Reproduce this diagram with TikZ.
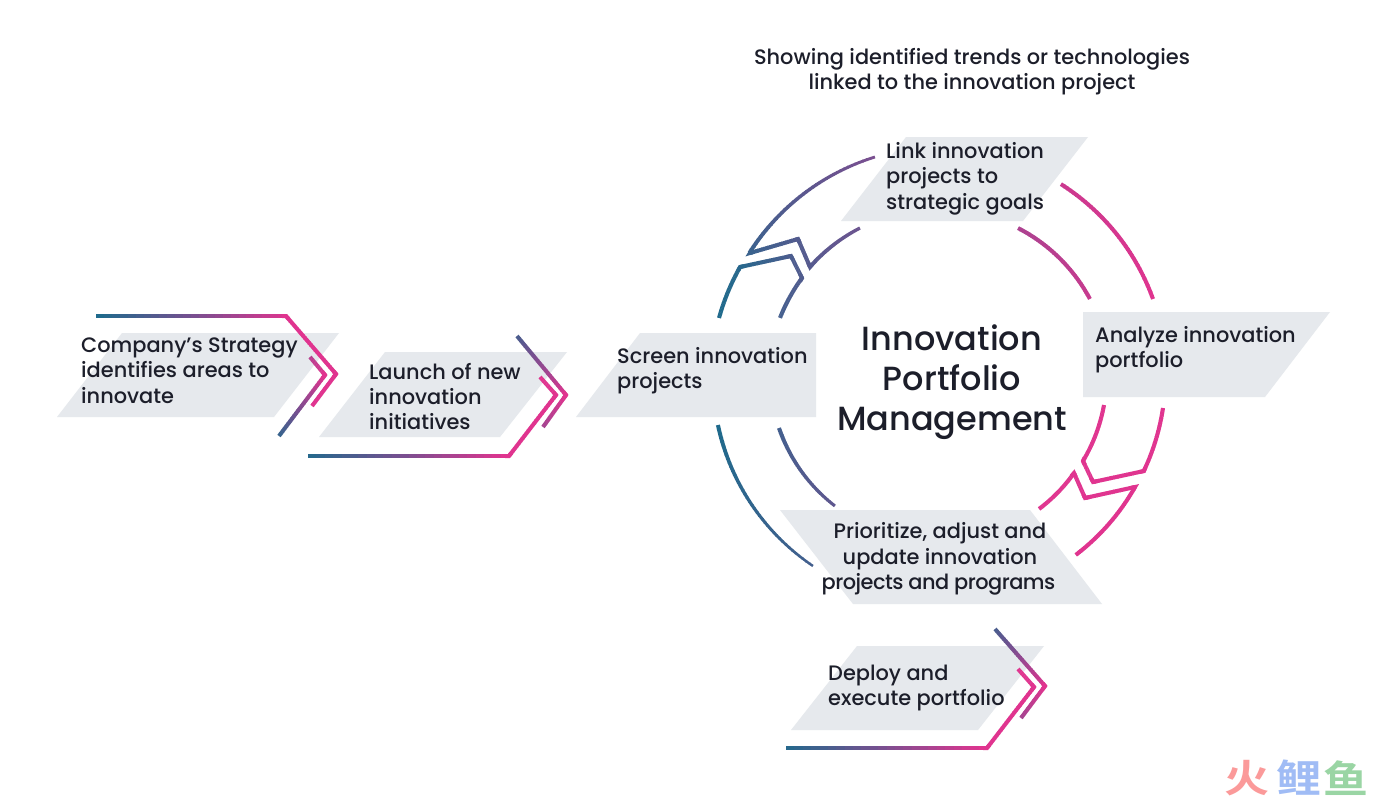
\documentclass[tikz,border=0pt]{standalone}
\usepackage{fontspec}
\setmainfont{Poppins Medium}
\newfontfamily\cjkwm{Noto Sans CJK SC Bold}
\usetikzlibrary{calc}
\definecolor{glow}{HTML}{1F6A8C}
\definecolor{gmid}{HTML}{7A4F90}
\definecolor{ghigh}{HTML}{E0348F}
\definecolor{pgram}{HTML}{E6E9ED}
\definecolor{inktext}{HTML}{1C1E2A}
\definecolor{wmred}{HTML}{FB9A9A}
\definecolor{wmblue}{HTML}{A0BCF5}
\definecolor{wmgreen}{HTML}{9AD5A4}
\newcommand\rsCol[1]{%
  \pgfmathparse{(#1<0.5)?(200*(#1)):(200*((#1)-0.5))}\let\rsP\pgfmathresult
  \ifdim #1pt<0.5pt \colorlet{gc}{gmid!\rsP!glow}\else\colorlet{gc}{ghigh!\rsP!gmid}\fi}
% straight gradient segment: x1 y1 t1 x2 y2 t2
\newcommand\gline[6]{%
  \foreach \i in {1,...,24}{%
    \pgfmathsetmacro\rsA{(\i-1)/24}%
    \pgfmathsetmacro\rsB{min(1,(\i+0.2)/24)}%
    \pgfmathsetmacro\rsT{#3+(#6-#3)*\rsA}%
    \rsCol{\rsT}%
    \draw[line width=4,gc] ({#1+(#4-#1)*\rsA},{#2+(#5-#2)*\rsA}) -- ({#1+(#4-#1)*\rsB},{#2+(#5-#2)*\rsB});
  }}
% arc about the ring centre: a1 r1 a2 r2 t1 t2 w1 w2
\newcommand\garc[8]{%
  \foreach \i in {1,...,40}{%
    \pgfmathsetmacro\rsA{(\i-1)/40}%
    \pgfmathsetmacro\rsB{min(1,(\i+0.2)/40)}%
    \pgfmathsetmacro\rsT{#5+(#6-#5)*\rsA}%
    \pgfmathsetmacro\rsW{#7+(#8-#7)*\rsA}%
    \rsCol{\rsT}%
    \draw[line width=\rsW,gc] ({940+(#2+(#4-#2)*\rsA)*cos(#1+(#3-#1)*\rsA)},{378+(#2+(#4-#2)*\rsA)*sin(#1+(#3-#1)*\rsA)}) -- ({940+(#2+(#4-#2)*\rsB)*cos(#1+(#3-#1)*\rsB)},{378+(#2+(#4-#2)*\rsB)*sin(#1+(#3-#1)*\rsB)});
  }}
% sharp joint: x1 y1 x y x2 y2 t
\newcommand\gjoint[7]{%
  \rsCol{#7}%
  \coordinate (ja) at (#1,#2);\coordinate (jm) at (#3,#4);\coordinate (jb) at (#5,#6);
  \draw[line width=4,gc,line join=miter] ($(jm)!4pt!(ja)$) -- (jm) -- ($(jm)!4pt!(jb)$);}
\tikzset{
  label text/.style={font=\fontsize{20.9}{25.3}\selectfont,text=inktext,inner sep=0pt,align=left,anchor=west},
  card/.style={fill=pgram,draw=none},
  wm/.style={font=\fontsize{45}{45}\cjkwm,inner sep=0pt,anchor=center}
}
\begin{document}
\begin{tikzpicture}[x=1pt,y=-1pt]
\useasboundingbox (0,0) rectangle (1392,801);
\fill[white] (0,0) rectangle (1392,801);
% cards
\fill[card] (122,333) -- (339,333) -- (274,417) -- (57,417) -- cycle;
\fill[card] (385,352) -- (567,352) -- (500,437) -- (319,437) -- cycle;
\fill[card] (640,333) -- (816,333) -- (816,417) -- (576,417) -- cycle;
\fill[card] (906,137) -- (1088,137) -- (1023,221) -- (841,221) -- cycle;
\fill[card] (1083,312) -- (1330,312) -- (1265,397) -- (1083,397) -- cycle;
\fill[card] (780,510) -- (1030,510) -- (1102,604) -- (853,604) -- cycle;
\fill[card] (857,646) -- (1044,646) -- (978,730) -- (791,730) -- cycle;
% chevron 1
\gline{96}{316}{0}{286}{316}{1}
\gline{286}{316}{1}{336}{374}{1}
\gline{336}{374}{1}{312}{406}{1}
\gjoint{96}{316}{286}{316}{336}{374}{1}
\gjoint{286}{316}{336}{374}{312}{406}{1}
\gline{310}{357}{0.8}{325}{375}{1}
\gline{325}{375}{1}{279}{436}{0.1}
\gjoint{310}{357}{325}{375}{279}{436}{1}
% chevron 2
\gline{517}{336}{0.25}{566}{395}{1}
\gline{566}{395}{1}{543}{427}{0.7}
\gjoint{517}{336}{566}{395}{543}{427}{1}
\gline{540}{377}{1}{556}{395}{1}
\gline{556}{395}{1}{509}{456}{1}
\gline{509}{456}{1}{308}{456}{0}
\gjoint{540}{377}{556}{395}{509}{456}{1}
\gjoint{556}{395}{509}{456}{308}{456}{1}
% chevron 3
\gline{995}{629}{0.25}{1045}{686}{1}
\gline{1045}{686}{1}{1021}{718}{0.7}
\gjoint{995}{629}{1045}{686}{1021}{718}{1}
\gline{1018}{669}{1}{1034}{687}{1}
\gline{1034}{687}{1}{987}{748}{1}
\gline{987}{748}{1}{786}{748}{0}
\gjoint{1018}{669}{1034}{687}{987}{748}{1}
\gjoint{1034}{687}{987}{748}{786}{748}{1}
% ring, right side
\garc{-58.05}{228.5}{-20.35}{227.2}{0.9}{1}{4}{4}
\garc{-62.5}{169}{-27.8}{169.5}{0.75}{0.88}{4}{4}
\garc{7.66}{225}{24.5}{224}{1}{1}{4}{4}
\gline{1144}{471}{1}{1093}{482}{1}
\gline{1093}{482}{1}{1083}{461}{1}
\garc{30.1}{165.3}{9.35}{166.2}{1}{1}{4}{4}
\gjoint{1150}{455}{1144}{471}{1093}{482}{1}
\gjoint{1144}{471}{1093}{482}{1083}{461}{1}
\gjoint{1093}{482}{1083}{461}{1091}{444}{1}
\garc{29.2}{223.4}{52.5}{223}{1}{1}{4}{4}
\gline{1135}{487}{1}{1085}{498}{1}
\gline{1085}{498}{1}{1074}{473}{1}
\garc{35.3}{164.3}{52.9}{164.2}{1}{1}{4}{4}
\gjoint{1125}{504}{1135}{487}{1085}{498}{1}
\gjoint{1135}{487}{1085}{498}{1074}{473}{1}
\gjoint{1085}{498}{1074}{473}{1062}{487}{1}
% ring, left side
\garc{-106.4}{230.4}{-146.7}{228}{0.5}{0.15}{2.8}{4}
\gline{750}{253}{0.15}{798}{239}{0.28}
\gline{798}{239}{0.28}{810}{267}{0.3}
\garc{-139.5}{171}{-118.1}{170}{0.3}{0.42}{4}{3.2}
\gjoint{759}{239}{750}{253}{798}{239}{0.15}
\gjoint{750}{253}{798}{239}{810}{267}{0.28}
\gjoint{798}{239}{810}{267}{820}{255}{0.3}
\garc{-164.8}{229}{-151}{228.7}{0}{0.05}{4}{4}
\gline{740}{267}{0.05}{791}{256}{0.25}
\gline{791}{256}{0.25}{802}{278}{0.27}
\garc{-144.1}{170.4}{-159.4}{170.9}{0.27}{0.2}{4}{4}
\gjoint{733}{281}{740}{267}{791}{256}{0.05}
\gjoint{740}{267}{791}{256}{802}{278}{0.25}
\gjoint{791}{256}{802}{278}{794}{292}{0.27}
\garc{168.05}{227}{124.05}{226.9}{0}{0.2}{4}{2.4}
\garc{162.75}{168.6}{129.4}{165.6}{0.2}{0.35}{4}{3}
% texts
\node[label text] (strategy) at (81,370.5) {Company’s Strategy\\identifies areas to\\innovate};
\node[label text] (launch) at (369,396.5) {Launch of new\\innovation\\initiatives};
\node[label text] (screen) at (617,371) {Screen innovation\\projects};
\node[label text] (link) at (886,178.5) {Link innovation\\projects to\\strategic goals};
\node[label text] (analyze) at (1095,350) {Analyze innovation\\portfolio};
\node[label text,align=center,anchor=center] (prioritize) at (940,559) {Prioritize, adjust and\\update innovation\\{\addfontfeature{LetterSpace=-2.5}\hspace*{-3pt}projects and programs}};
\node[label text] (deploy) at (828,688) {Deploy and\\execute portfolio};
\node[label text,align=center,anchor=center] (header) at (972,72) {Showing identified trends or technologies\\linked to the innovation project};
\node[label text,align=center,anchor=center,font=\fontsize{33.5}{40}\selectfont] (title) at (952,382) {Innovation\\Portfolio\\Management};
% watermark
\node[wm,text=wmred] (wm1) at (1247,778) {\scalebox{1}[0.85]{火}};
\node[wm,text=wmblue] (wm2) at (1299,778) {\scalebox{1}[0.85]{鲤}};
\node[wm,text=wmgreen] (wm3) at (1346,778) {\scalebox{1}[0.85]{鱼}};
\end{tikzpicture}
\end{document}
